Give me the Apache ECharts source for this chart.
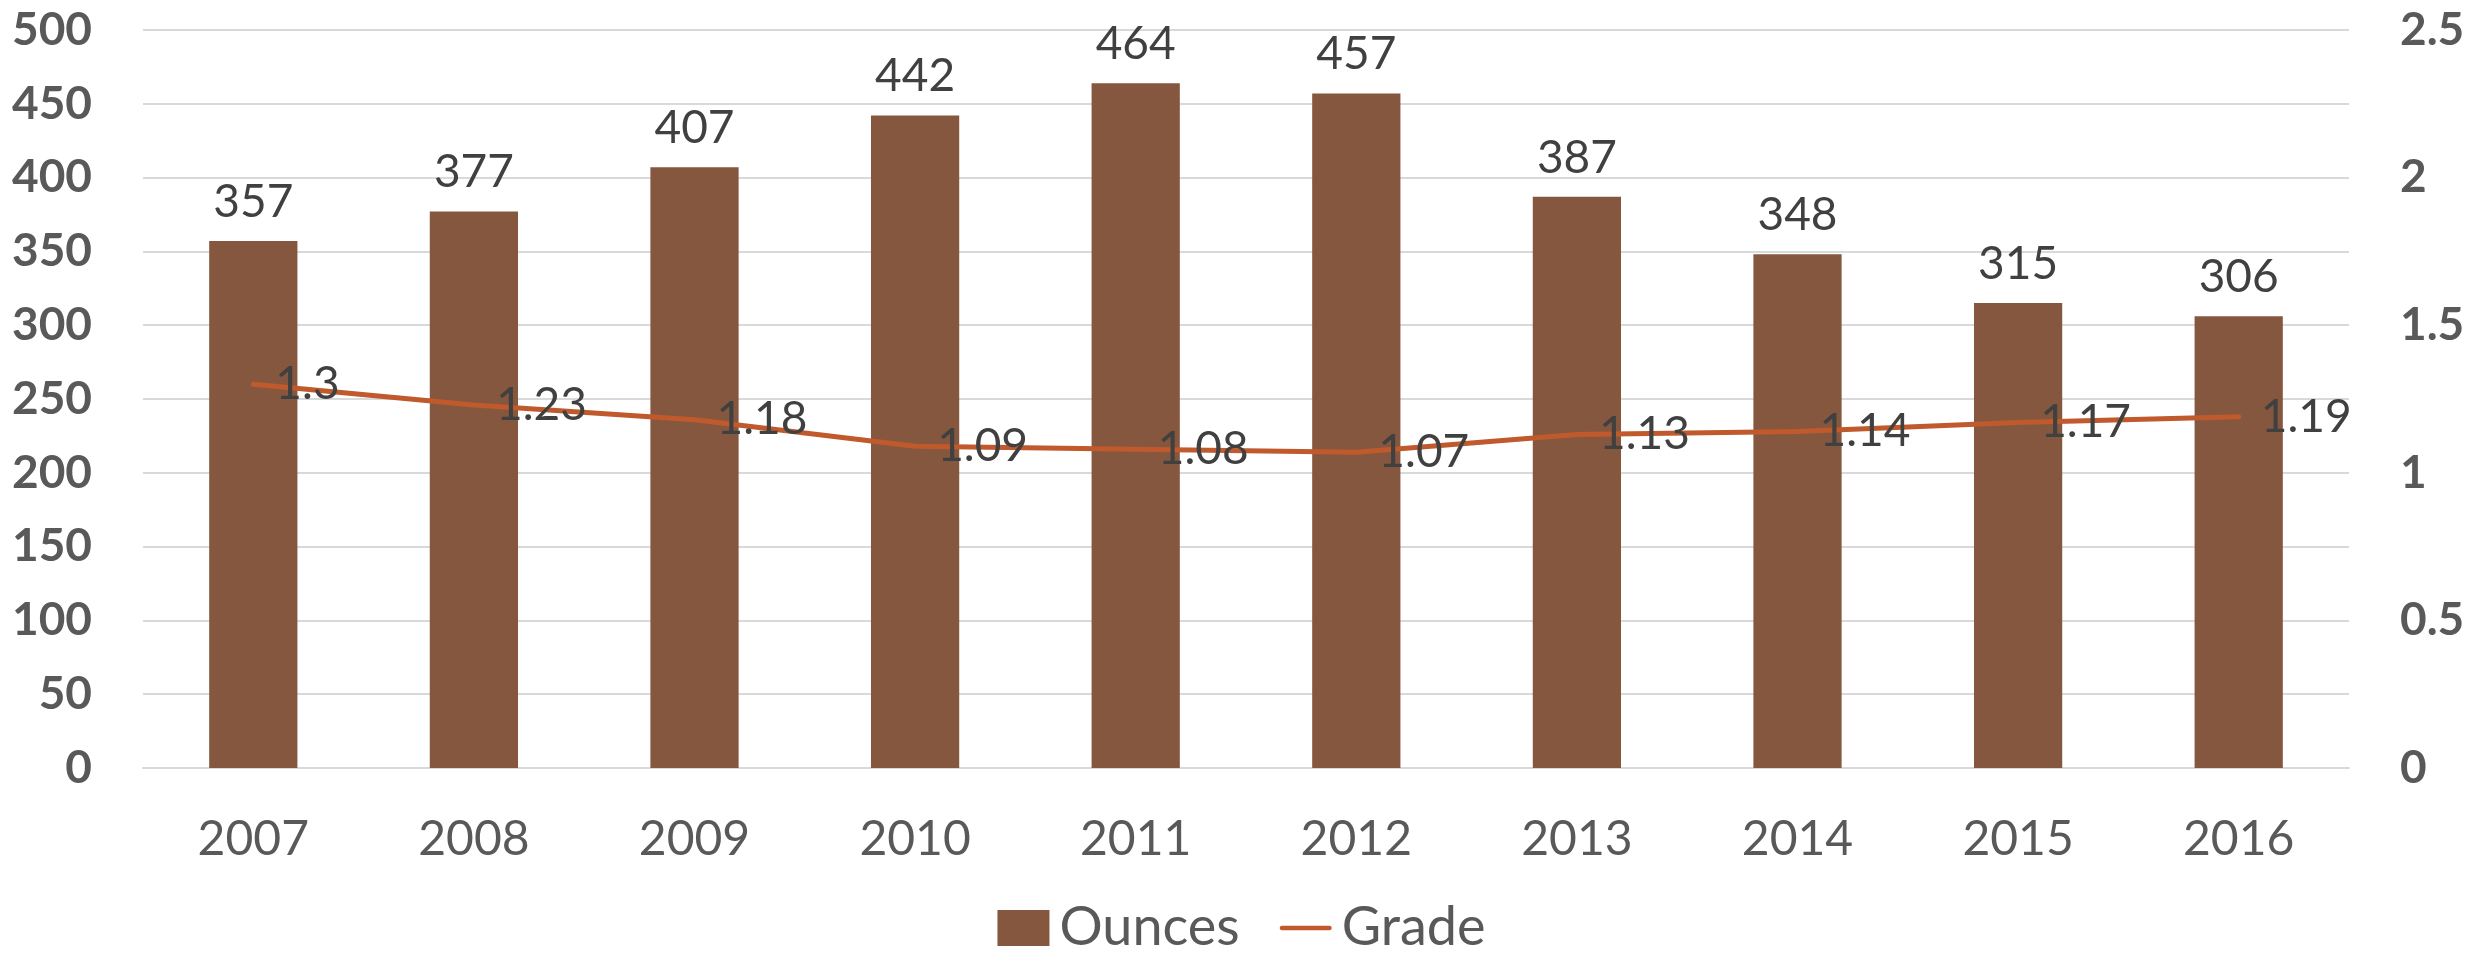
<!DOCTYPE html>
<html>
<head>
<meta charset="utf-8">
<script src="https://cdn.jsdelivr.net/npm/echarts@6/dist/echarts.min.js"></script>
<style>
html,body{margin:0;padding:0;background:#fff;}
#chart{width:2483px;height:956px;}
</style>
</head>
<body>
<div id="chart"></div>
<script>
const years = ['2007','2008','2009','2010','2011','2012','2013','2014','2015','2016'];
const ounces = [357, 377, 407, 442, 464, 457, 387, 348, 315, 306];
const grade = [1.3, 1.23, 1.18, 1.09, 1.08, 1.07, 1.13, 1.14, 1.17, 1.19];

const FONT = 'Lato';
const chart = echarts.init(document.getElementById('chart'), null, {renderer: 'canvas'});
chart.setOption({
  animation: false,
  backgroundColor: '#ffffff',
  textStyle: {fontFamily: FONT},
  grid: {left: 143, right: 134, top: 30, bottom: 188, containLabel: false},
  legend: {
    top: 896,
    left: 'center',
    itemWidth: 52,
    itemHeight: 36,
    itemGap: 40,
    textStyle: {fontFamily: FONT, fontSize: 54, color: '#595959', padding: [0, 0, 0, 5]},
    data: [
      {name: 'Ounces', icon: 'rect'},
      {name: 'Grade', icon: 'path://M2.5,0 H52.5 A2.5,2.5 0 0 1 52.5,5 H2.5 A2.5,2.5 0 0 1 2.5,0 Z', itemStyle: {color: '#C0592B'}}
    ]
  },
  xAxis: {
    type: 'category',
    data: years,
    axisLine: {show: true, lineStyle: {color: '#D9D9D9', width: 2}},
    axisTick: {show: false},
    axisLabel: {fontFamily: FONT, fontSize: 48, color: '#595959', margin: 48}
  },
  yAxis: [
    {
      type: 'value', min: 0, max: 500, interval: 50,
      axisLine: {show: false}, axisTick: {show: false},
      splitLine: {lineStyle: {color: '#D9D9D9', width: 2}},
      axisLabel: {fontFamily: FONT, fontSize: 46, fontWeight: 'bold', color: '#595959', margin: 51}
    },
    {
      type: 'value', min: 0, max: 2.5, interval: 0.5,
      axisLine: {show: false}, axisTick: {show: false},
      splitLine: {show: false},
      axisLabel: {fontFamily: FONT, fontSize: 46, fontWeight: 'bold', color: '#595959', margin: 51}
    }
  ],
  series: [
    {
      name: 'Ounces',
      type: 'bar',
      data: ounces,
      barWidth: '40%',
      itemStyle: {color: '#86573F'},
      label: {show: true, position: 'top', distance: 16, fontFamily: FONT, fontSize: 46, color: '#404040'}
    },
    {
      name: 'Grade',
      type: 'line',
      yAxisIndex: 1,
      data: grade,
      symbol: 'circle',
      symbolSize: 0.1,
      showSymbol: true,
      lineStyle: {color: '#C0592B', width: 5, cap: 'round'},
      itemStyle: {color: '#C0592B'},
      label: {show: true, position: 'right', distance: 22, fontFamily: FONT, fontSize: 46, color: '#404040'}
    }
  ]
});
</script>
</body>
</html>
